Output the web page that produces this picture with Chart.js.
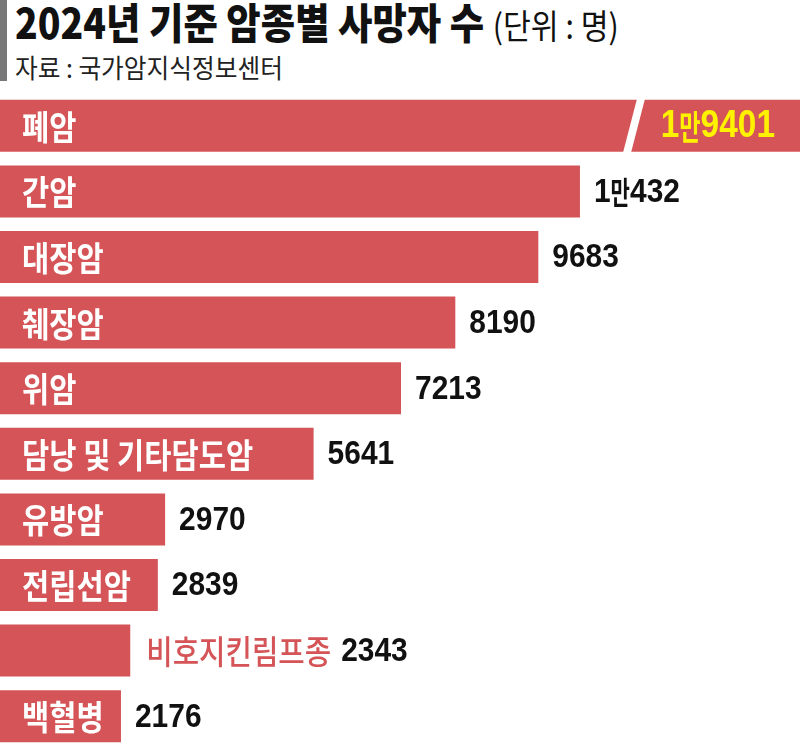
<!DOCTYPE html>
<html>
<head>
<meta charset="utf-8">
<script src="https://cdn.jsdelivr.net/npm/chart.js@4"></script>
<style>
  body { margin: 0; width: 800px; height: 744px; overflow: hidden; background: #fff; position: relative; }
  #bar { position: absolute; left: 0; top: 0; width: 7px; height: 81px; background: #777; }
  .t { position: absolute; left: 15px; white-space: nowrap; transform-origin: left top; font-family: "Noto Sans CJK KR", sans-serif; color: #111; }
  #title { top: -5px; font-size: 42px; font-weight: 900; transform: scaleX(0.89); line-height: 52px; }
  #title span { font-weight: 400; font-size: 34px; }
  #source { top: 50px; font-size: 26px; font-weight: 400; transform: scaleX(0.95); line-height: 34px; color: #222; }
  #chart { position: absolute; left: 0; top: 0; }
</style>
</head>
<body>
<div id="bar"></div>
<div id="title" class="t">2024년 기준 암종별 사망자 수 <span>(단위 : 명)</span></div>
<div id="source" class="t">자료 : 국가암지식정보센터</div>
<canvas id="chart" width="800" height="749"></canvas>
<script>
const categories = ["폐암", "간암", "대장암", "췌장암", "위암", "담낭 및 기타담도암", "유방암", "전립선암", "비호지킨림프종", "백혈병"];
const deaths = [19401, 10432, 9683, 8190, 7213, 5641, 2970, 2839, 2343, 2176];
const valueLabels = ["1만9401", "1만432", "9683", "8190", "7213", "5641", "2970", "2839", "2343", "2176"];
const axisMax = 14390;

const barColor = "#d45457";
const labelFont = "700 34px 'Noto Sans CJK KR', sans-serif";
const labelScale = 0.87;

function drawText(ctx, text, x, y, font, color, sx, align) {
    ctx.save();
    ctx.translate(x, y);
    ctx.scale(sx, 1);
    ctx.font = font;
    ctx.fillStyle = color;
    ctx.textAlign = align || "left";
    ctx.textBaseline = "middle";
    ctx.fillText(text, 0, 0);
    const w = ctx.measureText(text).width * sx;
    ctx.restore();
    return w;
}

// 숫자는 좁게, '만'은 더 좁게
function drawValue(ctx, text, x, y, size, color, align) {
    const parts = text.split(/(만)/).filter(p => p);
    const specs = parts.map(p => p === "만"
        ? { t: p, font: "700 " + Math.round(size * 0.9) + "px 'Noto Sans CJK KR', sans-serif", sx: 0.68 }
        : { t: p, font: "700 " + size + "px 'Liberation Sans', sans-serif", sx: 0.88 });
    ctx.save();
    let total = 0;
    specs.forEach(s => { ctx.font = s.font; s.w = ctx.measureText(s.t).width * s.sx; total += s.w; });
    ctx.restore();
    let cx = align === "right" ? x - total : x;
    specs.forEach(s => { drawText(ctx, s.t, cx, y, s.font, color, s.sx); cx += s.w; });
}

// 막대 위 라벨, 값, 폐암 막대 생략 표시
const barLabels = {
    id: "barLabels",
    afterDatasetsDraw(chart) {
        const ctx = chart.ctx;
        const bars = chart.getDatasetMeta(0).data;
        bars.forEach((bar, i) => {
            const y = bar.y + 1;
            const top = bar.y - bar.height / 2;
            const bottom = bar.y + bar.height / 2;
            if (deaths[i] > axisMax) {
                ctx.save();
                ctx.fillStyle = "#fff";
                ctx.beginPath();
                ctx.moveTo(637, top - 1);
                ctx.lineTo(645, top - 1);
                ctx.lineTo(631, bottom + 1);
                ctx.lineTo(623, bottom + 1);
                ctx.closePath();
                ctx.fill();
                ctx.restore();
                drawText(ctx, categories[i], 22, y, labelFont, "#fff", labelScale);
                drawValue(ctx, valueLabels[i], 775, y, 38, "#fff200", "right");
                return;
            }
            ctx.save();
            ctx.font = labelFont;
            const lw = ctx.measureText(categories[i]).width * labelScale;
            ctx.restore();
            if (22 + lw + 4 < bar.x) {
                drawText(ctx, categories[i], 22, y, labelFont, "#fff", labelScale);
                drawValue(ctx, valueLabels[i], bar.x + 14, y, 34, "#111");
            } else {
                const w = drawText(ctx, categories[i], bar.x + 16, y, "500 33px 'Noto Sans CJK KR', sans-serif", barColor, 0.87);
                drawValue(ctx, valueLabels[i], bar.x + 16 + w + 10, y, 34, "#111");
            }
        });
    }
};

new Chart(document.getElementById("chart"), {
    type: "bar",
    data: {
        labels: categories,
        datasets: [{
            data: deaths,
            backgroundColor: barColor,
            borderWidth: 0,
            categoryPercentage: 1,
            barPercentage: 52 / 65.6
        }]
    },
    options: {
        indexAxis: "y",
        responsive: false,
        animation: false,
        devicePixelRatio: 1,
        layout: { padding: { top: 93, left: 0, right: 0, bottom: 0 } },
        scales: {
            x: { display: false, min: 0, max: axisMax },
            y: { display: false }
        },
        plugins: { legend: { display: false }, tooltip: { enabled: false } }
    },
    plugins: [barLabels]
});
</script>
</body>
</html>
